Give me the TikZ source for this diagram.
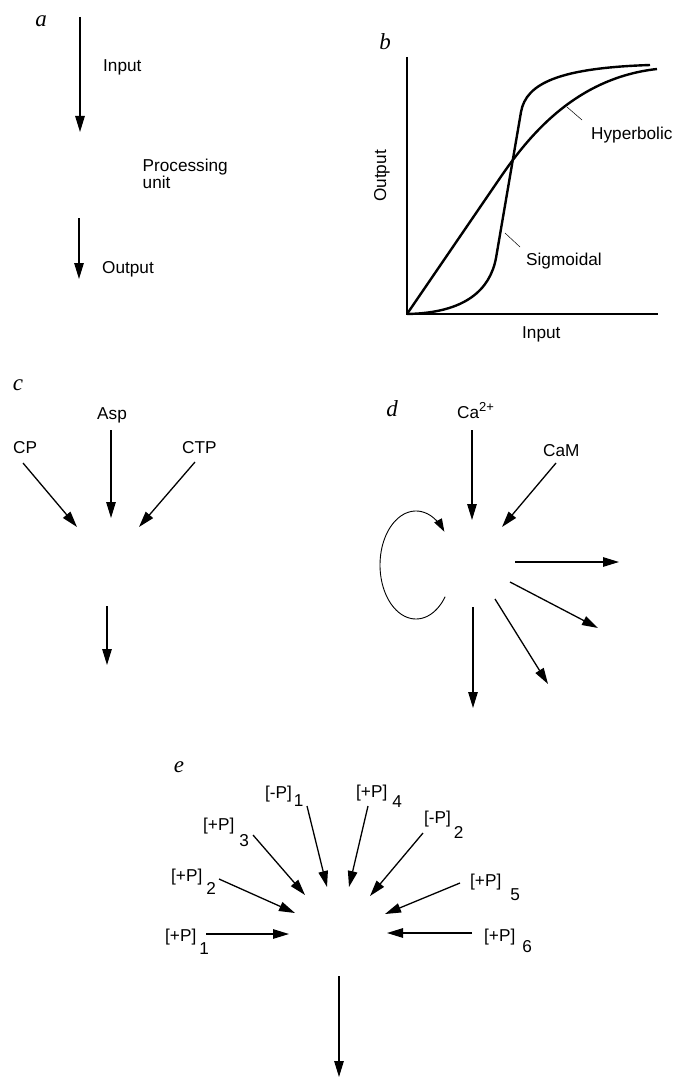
\documentclass[tikz,border=0pt]{standalone}
\usepackage{fontspec}
\setmainfont{Liberation Serif}
\setsansfont{Liberation Sans}
\usetikzlibrary{arrows.meta}
\begin{document}
\begin{tikzpicture}[x=1pt,y=-1pt,
  lbl/.style={font=\sffamily\fontsize{17.2}{17.2}\selectfont, inner sep=0pt, anchor=base west},
  letter/.style={font=\rmfamily\itshape\fontsize{23}{23}\selectfont, inner sep=0pt},
  arr/.style={line width=1.3pt, -{Triangle[length=16pt,width=9.5pt]}},
  axis/.style={line width=2.2pt},
  curve/.style={line width=2.4pt},
  leader/.style={line width=0.5pt},
  loopline/.style={line width=0.9pt, -{Triangle[length=13pt,width=8.5pt]}}
]
\useasboundingbox (0,0) rectangle (676,1078);
\fill[white] (0,0) rectangle (676,1078);

% ---------------- panel a ----------------
\node[letter] (la) at (41,21) {a};
\coordinate (a1s) at (80,17);
\coordinate (a1e) at (80,132);
\coordinate (a2s) at (79,218);
\coordinate (a2e) at (79,279);
\draw[arr] (a1s) -- (a1e);
\draw[arr] (a2s) -- (a2e);
\node[lbl] (ainput) at (103,71.5) {Input};
\node[lbl, anchor=north west, align=left] (aproc) at (142.5,158.5) {Processing\\unit};
\node[lbl] (aoutput) at (102,273.5) {Output};

% ---------------- panel b ----------------
\node[letter] (lb) at (385,42) {b};
\coordinate (O) at (407,314);
\coordinate (ytop) at (407,57);
\coordinate (xend) at (658,314);
\draw[axis] (ytop) -- (O) -- (xend);
\node[lbl, anchor=center, rotate=90] (bout) at (382,176) {Output};
\node[lbl] (bin) at (522,338) {Input};
% hyperbolic
\draw[curve] (O) -- (500,178) .. controls (528,137) and (575,78) .. (657,69);
% sigmoidal
\draw[curve] (O) .. controls (465,313) and (490,290) .. (496,258)
  -- (521,112) .. controls (526,83) and (560,68) .. (650,65);
\node[lbl] (hyp) at (591,140) {Hyperbolic};
\node[lbl] (sig) at (526,265) {Sigmoidal};
\coordinate (h1) at (567,107);
\coordinate (h2) at (582,120);
\coordinate (s1) at (505,233);
\coordinate (s2) at (520,247);
\draw[leader] (h1) -- (h2);
\draw[leader] (s1) -- (s2);

% ---------------- panel c ----------------
\node[letter] (lc) at (18,385) {c};
\node[lbl] (asp) at (97,419) {Asp};
\node[lbl] (cp) at (13,453) {CP};
\node[lbl] (ctp) at (182,453) {CTP};
\coordinate (aspS) at (111,430);
\coordinate (aspE) at (111,518);
\coordinate (cpS) at (23,463);
\coordinate (cpE) at (77,527);
\coordinate (ctpS) at (195,462);
\coordinate (ctpE) at (139,527);
\coordinate (coutS) at (107,606);
\coordinate (coutE) at (107,665);
\draw[arr] (aspS) -- (aspE);
\draw[arr] (cpS) -- (cpE);
\draw[arr] (ctpS) -- (ctpE);
\draw[arr] (coutS) -- (coutE);

% ---------------- panel d ----------------
\node[letter] (ld) at (392,409) {d};
\node[lbl] (ca) at (457,418) {Ca\raisebox{0.4em}{\fontsize{13}{13}\selectfont 2+}};
\node[lbl] (cam) at (543,456) {CaM};
\coordinate (caS) at (472,430);
\coordinate (caE) at (472,520);
\coordinate (camS) at (556,463);
\coordinate (camE) at (502,527);
\draw[arr] (caS) -- (caE);
\draw[arr] (camS) -- (camE);
\coordinate (loopC) at (416,565);
\draw[loopline] plot[domain=36:322, samples=80] ({416+36*cos(\x)},{565+54*sin(\x)});
\coordinate (d1S) at (515,562);
\coordinate (d1E) at (619,562);
\coordinate (d2S) at (510,582);
\coordinate (d2E) at (598,628);
\coordinate (d3S) at (495,599);
\coordinate (d3E) at (548,684);
\coordinate (d4S) at (473,607);
\coordinate (d4E) at (473,708);
\draw[arr] (d1S) -- (d1E);
\draw[arr] (d2S) -- (d2E);
\draw[arr] (d3S) -- (d3E);
\draw[arr] (d4S) -- (d4E);

% ---------------- panel e ----------------
\node[letter] (le) at (179,767) {e};
\node[lbl] (mp1) at (265,798) {[-P]\kern2pt\raisebox{-8pt}{1}};
\node[lbl] (pp4) at (356,797) {[+P]\kern5pt\raisebox{-10pt}{4}};
\node[lbl] (pp3) at (203,830) {[+P]\kern5pt\raisebox{-16pt}{3}};
\node[lbl] (mp2) at (424,823) {[-P]\kern3pt\raisebox{-15pt}{2}};
\node[lbl] (pp2) at (171,881) {[+P]\kern4pt\raisebox{-13pt}{2}};
\node[lbl] (pp5) at (470,886) {[+P]\kern9pt\raisebox{-14pt}{5}};
\node[lbl] (pp1) at (165,941) {[+P]\kern3pt\raisebox{-13pt}{1}};
\node[lbl] (pp6) at (484,941) {[+P]\kern7pt\raisebox{-11pt}{6}};

\coordinate (emp1S) at (307,806);  \coordinate (emp1E) at (327,887);
\coordinate (epp4S) at (368,806);  \coordinate (epp4E) at (349,887);
\coordinate (epp3S) at (253,835);  \coordinate (epp3E) at (305,895);
\coordinate (emp2S) at (423,833);  \coordinate (emp2E) at (370,896);
\coordinate (epp2S) at (219,879);  \coordinate (epp2E) at (295,913);
\coordinate (epp5S) at (460,883);  \coordinate (epp5E) at (385,914);
\coordinate (epp1S) at (206,934);  \coordinate (epp1E) at (289,934);
\coordinate (epp6S) at (472,933);  \coordinate (epp6E) at (387,933);
\coordinate (eoutS) at (339,976);  \coordinate (eoutE) at (339,1077);
\draw[arr] (emp1S) -- (emp1E);
\draw[arr] (epp4S) -- (epp4E);
\draw[arr] (epp3S) -- (epp3E);
\draw[arr] (emp2S) -- (emp2E);
\draw[arr] (epp2S) -- (epp2E);
\draw[arr] (epp5S) -- (epp5E);
\draw[arr] (epp1S) -- (epp1E);
\draw[arr] (epp6S) -- (epp6E);
\draw[arr] (eoutS) -- (eoutE);
\end{tikzpicture}
\end{document}
